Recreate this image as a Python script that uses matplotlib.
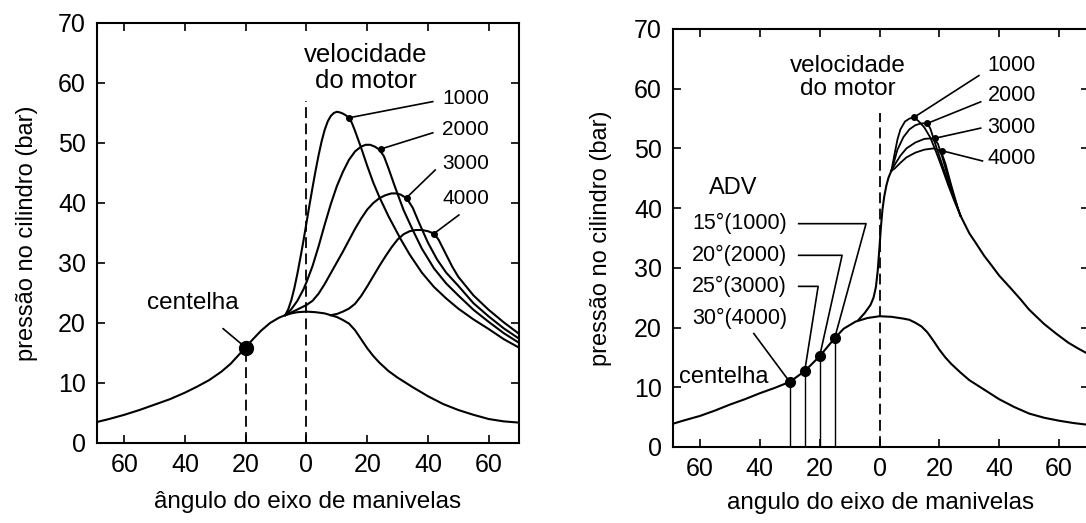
import matplotlib
matplotlib.use("Agg")
import matplotlib.pyplot as plt

plt.rcParams['font.family'] = ['Liberation Sans', 'DejaVu Sans']

# ---------------- left panel data ----------------
mot_a = [-69, -65, -60, -55, -50, -45, -40, -36, -32, -28, -25, -21, -18, -15, -12, -9, -7, -5, -3, 0, 3, 6, 8,
         10, 12, 14, 16, 18, 20, 22, 24, 27, 30, 35, 40, 45, 50, 55, 60, 65, 70]
mot_v = [3.5, 4.0, 4.7, 5.5, 6.4, 7.3, 8.4, 9.4, 10.5, 11.9, 13.2, 15.4, 17.1, 18.7, 20.0, 20.9, 21.3, 21.6, 21.8, 21.9,
         21.8, 21.6, 21.3, 21.0, 20.5, 19.9, 18.8, 17.3, 15.8, 14.5, 13.4, 12.0, 10.9, 9.3, 7.8, 6.5, 5.5, 4.7, 4.0,
         3.6, 3.4]

c1000_a = [-7, -6, -5, -4, -3, -2, -1, 0, 1, 2, 3, 4, 5, 6, 7, 8, 9, 10, 11, 12, 13, 14, 15, 16, 17, 18, 20, 22,
           24, 27, 31, 34, 38, 42, 46, 50, 55, 60, 65, 70]
c1000_v = [21.3, 22.3, 23.8, 25.8, 28.2, 30.9, 33.7, 36.7, 39.7, 42.6, 45.4, 48.0, 50.3, 52.2, 53.6, 54.5, 55.0, 55.2,
           55.1, 54.9, 54.6, 54.2, 53.3, 52.0, 50.6, 49.2, 46.2, 43.4, 41.0, 37.8, 34.0, 31.4, 28.4, 26.0, 24.1, 22.4,
           20.6, 19.0, 17.3, 15.9]

c2000_a = [-7, -5, -3, -1, 0, 2, 4, 6, 8, 10, 12, 14, 16, 18, 19.5, 21, 22.5, 24, 25.5, 27, 29, 32, 35, 38, 42,
           46, 50, 55, 60, 65, 70]
c2000_v = [21.3, 22.3, 23.7, 25.6, 26.8, 29.5, 32.8, 36.4, 39.8, 42.8, 45.2, 47.2, 48.6, 49.4, 49.7, 49.7, 49.4,
           48.9, 47.8, 45.8, 42.9, 38.8, 35.5, 32.4, 29.1, 26.6, 24.6, 22.2, 20.2, 18.3, 16.7]

c3000_a = [-7, -4, -2, 0, 2, 4, 6, 8, 10, 12, 14, 16, 18, 20, 22, 24, 26, 28, 29.5, 31, 33, 35, 37, 40, 43, 46,
           50, 55, 60, 65, 70]
c3000_v = [21.3, 22.0, 22.5, 23.0, 23.7, 24.9, 26.5, 28.3, 30.1, 31.9, 33.8, 35.7, 37.4, 38.9, 40.0, 40.8, 41.3,
           41.6, 41.6, 41.4, 40.8, 39.2, 36.8, 33.4, 30.6, 28.4, 26.2, 23.3, 21.1, 19.1, 17.4]

c4000_a = [8, 10, 12, 14, 16, 18, 20, 22, 24, 26, 28, 30, 32, 34, 36, 38, 40, 42, 43.5, 45, 46.5, 48, 50, 55, 60,
           65, 70]
c4000_v = [21.3, 21.5, 21.9, 22.4, 23.2, 24.5, 26.1, 27.8, 29.5, 31.1, 32.6, 33.9, 34.8, 35.3, 35.5, 35.5, 35.3,
           34.9, 33.9, 32.4, 30.9, 29.4, 27.7, 24.6, 22.2, 20.1, 18.2]

left_labels = ['1000', '2000', '3000', '4000']
left_dot_a = [14.0, 24.5, 33.0, 42.0]
left_dot_v = [54.2, 49.0, 40.9, 34.9]
left_lbl_a = [52.5, 52.5, 52.5, 52.5]
left_lbl_v = [57.4, 52.2, 46.6, 40.8]
left_lead_a = [41.6, 41.6, 42.4, 50.2]
left_lead_v = [56.9, 51.7, 45.5, 38.0]

spark_left_a = -20
spark_left_v = 15.9

# ---------------- right panel data ----------------
rmot_a = [-69, -65, -60, -55, -50, -45, -40, -35, -30, -25, -20, -15, -12, -8, -4, 0, 4, 8, 10, 12, 14, 16, 18, 20,
          22, 24, 27, 30, 35, 40, 45, 50, 55, 60, 65, 70]
rmot_v = [3.9, 4.5, 5.2, 6.1, 7.1, 8.0, 9.0, 9.9, 10.9, 12.7, 15.2, 18.2, 19.8, 21.0, 21.6, 21.9, 21.8, 21.5, 21.3,
          20.8, 20.2, 19.2, 17.8, 16.3, 15.0, 13.9, 12.5, 11.2, 9.6, 8.0, 6.7, 5.6, 4.9, 4.4, 4.0, 3.7]

rise_a = [-7, -5, -3, -2, -1.2, -0.6, 0, 0.5, 1, 1.6, 2.3, 3, 4]
rise_v = [21.3, 22.4, 23.8, 25.0, 26.8, 29.5, 33.5, 37.0, 39.8, 42.0, 43.8, 45.1, 46.3]
fall_a = [27, 30, 32, 35, 37, 40, 44, 47, 50, 55, 59, 63, 66, 70]
fall_v = [38.8, 35.8, 34.3, 32.0, 30.7, 28.7, 26.5, 24.8, 23.0, 20.6, 19.0, 17.5, 16.6, 15.5]

r1000_a = [5, 6, 7, 8.5, 10, 11.5, 13, 15, 17, 19, 21, 23, 25]
r1000_v = [49.0, 51.5, 53.2, 54.5, 55.0, 55.2, 54.6, 53.5, 51.8, 49.3, 46.6, 43.8, 41.2]
r2000_a = [5, 6, 8, 10, 12, 14, 16, 17, 19, 21, 23, 25]
r2000_v = [48.0, 49.8, 51.9, 53.2, 53.9, 54.2, 54.2, 53.3, 50.2, 47.2, 44.3, 41.5]
r3000_a = [5, 7, 9, 12, 15, 18, 19.5, 21, 23, 25]
r3000_v = [47.2, 48.8, 50.0, 51.0, 51.6, 51.7, 50.8, 48.5, 45.0, 41.8]
r4000_a = [5, 7, 9, 12, 15, 18, 20.5, 22, 24, 26]
r4000_v = [46.6, 47.6, 48.5, 49.3, 49.8, 50.0, 49.6, 47.5, 43.8, 40.3]

right_labels = ['1000', '2000', '3000', '4000']
right_dot_a = [11.5, 16.0, 18.5, 21.0]
right_dot_v = [55.2, 54.2, 51.7, 49.6]
right_lbl_a = [44.0, 44.2, 44.2, 44.2]
right_lbl_v = [63.9, 58.9, 53.5, 48.3]
right_lead_a = [33.2, 33.8, 33.8, 34.4]
right_lead_v = [62.2, 57.8, 53.4, 47.9]

adv_labels = ['15°(1000)', '20°(2000)', '25°(3000)', '30°(4000)']
adv_deg = [-15, -20, -25, -30]
adv_spark_v = [18.2, 15.2, 12.7, 10.9]
adv_lbl_v = [37.4, 32.1, 26.9, 21.5]
adv_corner_a = [-4.5, -12.5, -20.5, None]

xticks = [-60, -40, -20, 0, 20, 40, 60]
xticklabels = ['60', '40', '20', '0', '20', '40', '60']
yticks = [0, 10, 20, 30, 40, 50, 60, 70]

W, H = 1086, 523
fig = plt.figure(figsize=(W / 100, H / 100), dpi=100)
axL = fig.add_axes([97 / W, (H - 443) / H, 422 / W, 420 / H])
axR = fig.add_axes([673 / W, (H - 447) / H, 416 / W, 418 / H])

lw = 1.5
for ax in (axL, axR):
    ax.set_xlim(-69, 70)
    ax.set_ylim(0, 70)
    ax.set_xticks(xticks)
    ax.set_xticklabels(xticklabels)
    ax.set_yticks(yticks)
    ax.tick_params(direction='in', length=6, width=1.2, labelsize=18, top=True, right=True, pad=8)
    ax.tick_params(axis='x', pad=7)
    for s in ax.spines.values():
        s.set_linewidth(1.5)

axL.set_ylabel('pressão no cilindro (bar)', fontsize=17, labelpad=14)
axR.set_ylabel('pressão no cilindro (bar)', fontsize=17, labelpad=16)
axL.set_xlabel('ângulo do eixo de manivelas', fontsize=17.5, labelpad=10)
axR.set_xlabel('angulo do eixo de manivelas', fontsize=17.5, labelpad=8)

# ---- left panel ----
axL.plot(mot_a, mot_v, color='black', lw=lw)
for a, v in [(c1000_a, c1000_v), (c2000_a, c2000_v), (c3000_a, c3000_v), (c4000_a, c4000_v)]:
    axL.plot(a, v, color='black', lw=lw)
axL.plot([0, 0], [0, 57], color='black', lw=1.3, ls=(0, (6, 3)))
axL.plot([spark_left_a, spark_left_a], [0, spark_left_v], color='black', lw=1.3, ls=(0, (6, 3)))
axL.plot([spark_left_a], [spark_left_v], 'o', color='black', ms=10)
axL.annotate('centelha', xy=(spark_left_a, spark_left_v), xytext=(-37.5, 23.3), fontsize=17.5,
             ha='center', va='center',
             arrowprops=dict(arrowstyle='-', color='black', lw=1.2, shrinkA=13, shrinkB=0))
axL.text(19.5, 62.5, 'velocidade\ndo motor', fontsize=18.5, ha='center', va='center', linespacing=1.1)
for lab, da, dv, la, lv, ea, ev in zip(left_labels, left_dot_a, left_dot_v, left_lbl_a, left_lbl_v,
                                      left_lead_a, left_lead_v):
    axL.plot([da, ea], [dv, ev], color='black', lw=1.2)
    axL.plot([da], [dv], 'o', color='black', ms=4)
    axL.text(la, lv, lab, fontsize=15, ha='center', va='center')

# ---- right panel ----
axR.plot(rmot_a, rmot_v, color='black', lw=lw)
axR.plot(rise_a, rise_v, color='black', lw=lw)
axR.plot(fall_a, fall_v, color='black', lw=lw)
for a, v in [(r1000_a, r1000_v), (r2000_a, r2000_v), (r3000_a, r3000_v), (r4000_a, r4000_v)]:
    axR.plot([rise_a[-1]] + a + [fall_a[0]], [rise_v[-1]] + v + [fall_v[0]], color='black', lw=1.3)
axR.plot([0, 0], [0, 56], color='black', lw=1.3, ls=(0, (6, 3)))
axR.text(-10.5, 61.9, 'velocidade\ndo motor', fontsize=17.5, ha='center', va='center', linespacing=1.1)
for lab, da, dv, la, lv, ea, ev in zip(right_labels, right_dot_a, right_dot_v, right_lbl_a, right_lbl_v,
                                      right_lead_a, right_lead_v):
    axR.plot([da, ea], [dv, ev], color='black', lw=1.2)
    axR.plot([da], [dv], 'o', color='black', ms=4)
    axR.text(la, lv, lab, fontsize=15.5, ha='center', va='center')

axR.text(-49, 43.4, 'ADV', fontsize=17, ha='center', va='center')
for lab, d, sv, lv, ca in zip(adv_labels, adv_deg, adv_spark_v, adv_lbl_v, adv_corner_a):
    axR.plot([d, d], [0, sv], color='black', lw=1.0)
    axR.plot([d], [sv], 'o', color='black', ms=7)
    axR.text(-46.8, lv, lab, fontsize=15.5, ha='center', va='center')
    if ca is not None:
        axR.plot([-27, ca, d], [lv, lv, sv], color='black', lw=1.2)
    else:
        axR.plot([-42, d], [19, sv], color='black', lw=1.2)
axR.text(-52, 11.8, 'centelha', fontsize=17, ha='center', va='center')

fig.savefig('out.png', dpi=100)
